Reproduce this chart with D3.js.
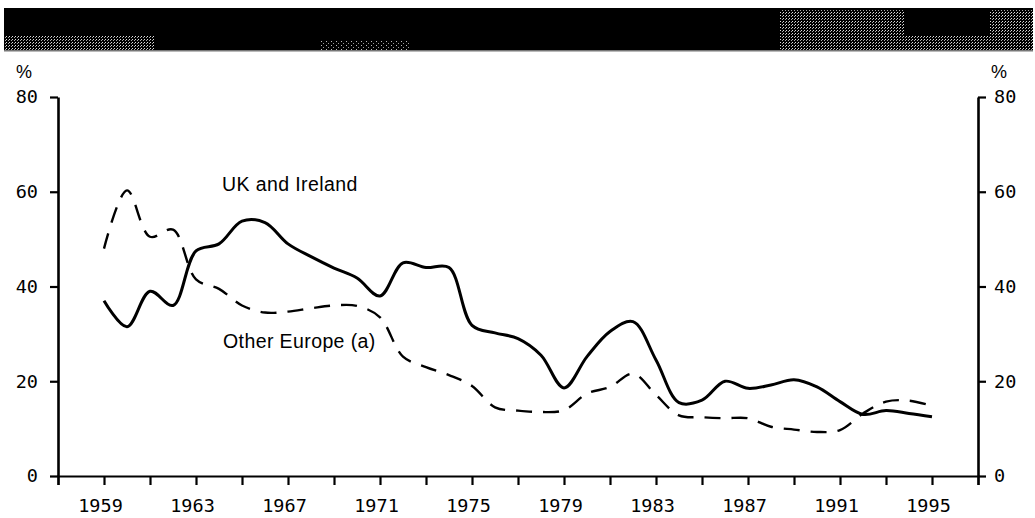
<!DOCTYPE html>
<html>
<head>
<meta charset="utf-8">
<script src="https://d3js.org/d3.v7.min.js"></script>
<style>
  body { margin: 0; background: #fff; }
  #chart-area svg { display: block; }
</style>
</head>
<body>
<div id="chart-area"></div>
<script>
// data
const years = [1959, 1960, 1961, 1962, 1963, 1964, 1965, 1966, 1967, 1968, 1969, 1970,
               1971, 1972, 1973, 1974, 1975, 1976, 1977, 1978, 1979, 1980, 1981, 1982,
               1983, 1984, 1985, 1986, 1987, 1988, 1989, 1990, 1991, 1992, 1993, 1994, 1995];

const ukIreland = [37, 31.5, 39, 36, 47.5, 49, 53.8, 53.5, 49, 46.3, 43.9, 41.8,
                   38, 45, 44, 44, 31.8, 30.2, 29, 25.5, 18.6, 25.2, 30.5, 32.6,
                   24.5, 15.5, 16, 20, 18.5, 19.2, 20.3, 18.8, 15.7, 13, 13.8, 13.2, 12.5];

const otherEurope = [48, 60.3, 50.5, 52, 41.5, 39.5, 36, 34.5, 34.7, 35.4, 36, 35.9,
                     33.5, 25.2, 23, 21.3, 19, 14.5, 13.8, 13.5, 13.9, 17.4, 18.8, 21.6,
                     17.1, 12.8, 12.4, 12.2, 12.2, 10.4, 9.8, 9.3, 9.7, 13.2, 15.7, 15.9, 14.8];

const yTicks = [0, 20, 40, 60, 80];
const xTicks = d3.range(1957, 1998, 2);
const xLabels = [1959, 1963, 1967, 1971, 1975, 1979, 1983, 1987, 1991, 1995];

const width = 1035, height = 518;
const monoFont = "'DejaVu Sans Mono', 'Liberation Mono', monospace";
const sansFont = "'Liberation Sans', Arial, sans-serif";

let svg = d3.select("#chart-area")
  .append("svg")
  .attr("width", width)
  .attr("height", height);

// dither patterns for the scanned banner on top
let defs = svg.append("defs");
let sparse = defs.append("pattern")
  .attr("id", "sparse")
  .attr("width", 5).attr("height", 4)
  .attr("patternUnits", "userSpaceOnUse");
sparse.append("rect").attr("width", 5).attr("height", 4).attr("fill", "#000");
sparse.append("rect").attr("x", 1).attr("y", 1).attr("width", 1).attr("height", 1).attr("fill", "#bbb");
sparse.append("rect").attr("x", 3).attr("y", 3).attr("width", 1).attr("height", 1).attr("fill", "#999");

let dense = defs.append("pattern")
  .attr("id", "dense")
  .attr("width", 3).attr("height", 3)
  .attr("patternUnits", "userSpaceOnUse");
dense.append("rect").attr("width", 3).attr("height", 3).attr("fill", "#000");
dense.append("rect").attr("x", 0).attr("y", 0).attr("width", 1).attr("height", 1).attr("fill", "#ddd");
dense.append("rect").attr("x", 2).attr("y", 1).attr("width", 1).attr("height", 1).attr("fill", "#aaa");

// banner
svg.append("rect").attr("x", 4).attr("y", 8).attr("width", 1029).attr("height", 43).attr("fill", "#000");
svg.append("rect").attr("x", 4).attr("y", 36).attr("width", 150).attr("height", 14).attr("fill", "url(#dense)");
svg.append("rect").attr("x", 320).attr("y", 40).attr("width", 90).attr("height", 10).attr("fill", "url(#sparse)");
svg.append("rect").attr("x", 780).attr("y", 10).attr("width", 125).attr("height", 41).attr("fill", "url(#dense)");
svg.append("rect").attr("x", 905).attr("y", 36).attr("width", 128).attr("height", 15).attr("fill", "url(#dense)");
svg.append("rect").attr("x", 990).attr("y", 10).attr("width", 43).attr("height", 26).attr("fill", "url(#dense)");
svg.append("rect").attr("x", 4).attr("y", 50).attr("width", 1029).attr("height", 1.5).attr("fill", "#777");

// scales
let x = d3.scaleLinear()
  .domain([1957, 1997])
  .range([58, 978]);

let y = d3.scaleLinear()
  .domain([0, 80])
  .range([476, 97]);

// bottom axis
let xAxisCall = d3.axisBottom(x)
  .tickValues(xTicks)
  .tickSize(9)
  .tickFormat(d => xLabels.includes(d) ? d : "");
let xAxis = svg.append("g")
  .attr("class", "x axis")
  .attr("transform", "translate(0," + y(0) + ")")
  .call(xAxisCall);
xAxis.select(".domain").attr("stroke-width", 2.2);
xAxis.selectAll(".tick line").attr("stroke-width", 2.2);
xAxis.selectAll(".tick text")
  .attr("font-family", monoFont)
  .attr("font-size", "18.5px")
  .attr("fill", "#000")
  .attr("dx", -4)
  .attr("y", 23);

// left axis
let yAxisLeft = d3.axisLeft(y)
  .tickValues(yTicks)
  .tickSize(8)
  .tickSizeOuter(0)
  .tickPadding(12);
let yLeft = svg.append("g")
  .attr("class", "y axis")
  .attr("transform", "translate(" + x(1957) + ",0)")
  .call(yAxisLeft);

// right axis
let yAxisRight = d3.axisRight(y)
  .tickValues(yTicks)
  .tickSize(8)
  .tickSizeOuter(0)
  .tickPadding(8);
let yRight = svg.append("g")
  .attr("class", "y axis")
  .attr("transform", "translate(" + x(1997) + ",0)")
  .call(yAxisRight);

[yLeft, yRight].forEach(function(g) {
  g.select(".domain").attr("stroke-width", 2.6);
  g.selectAll(".tick line").attr("stroke-width", 2.2);
  g.selectAll(".tick text")
    .attr("font-family", monoFont)
    .attr("font-size", "18.5px")
    .attr("fill", "#000");
});

// % unit labels
svg.append("text")
  .attr("x", 16).attr("y", y(80) - 19)
  .attr("font-family", sansFont)
  .attr("font-size", "18px")
  .text("%");
svg.append("text")
  .attr("x", 991).attr("y", y(80) - 19)
  .attr("font-family", sansFont)
  .attr("font-size", "18px")
  .text("%");

// line generator
let line = d3.line()
  .x(function(d){ return x(d[0]) })
  .y(function(d){ return y(d[1]) })
  .curve(d3.curveCatmullRom.alpha(0.5));

svg.append("path")
  .datum(years.map((yr, i) => [yr, otherEurope[i]]))
  .attr("d", line)
  .attr("fill", "none")
  .attr("stroke", "#000")
  .attr("stroke-width", 2.4)
  .attr("stroke-dasharray", "16,11");

svg.append("path")
  .datum(years.map((yr, i) => [yr, ukIreland[i]]))
  .attr("d", line)
  .attr("fill", "none")
  .attr("stroke", "#000")
  .attr("stroke-width", 3)
  .attr("stroke-linejoin", "round");

// series labels
svg.append("text")
  .attr("x", 222).attr("y", 191)
  .attr("font-family", sansFont)
  .attr("font-size", "19.5px")
  .attr("letter-spacing", "0.4px")
  .text("UK and Ireland");

svg.append("text")
  .attr("x", 223).attr("y", 348)
  .attr("font-family", sansFont)
  .attr("font-size", "19.5px")
  .attr("letter-spacing", "0.4px")
  .text("Other Europe (a)");
</script>
</body>
</html>
